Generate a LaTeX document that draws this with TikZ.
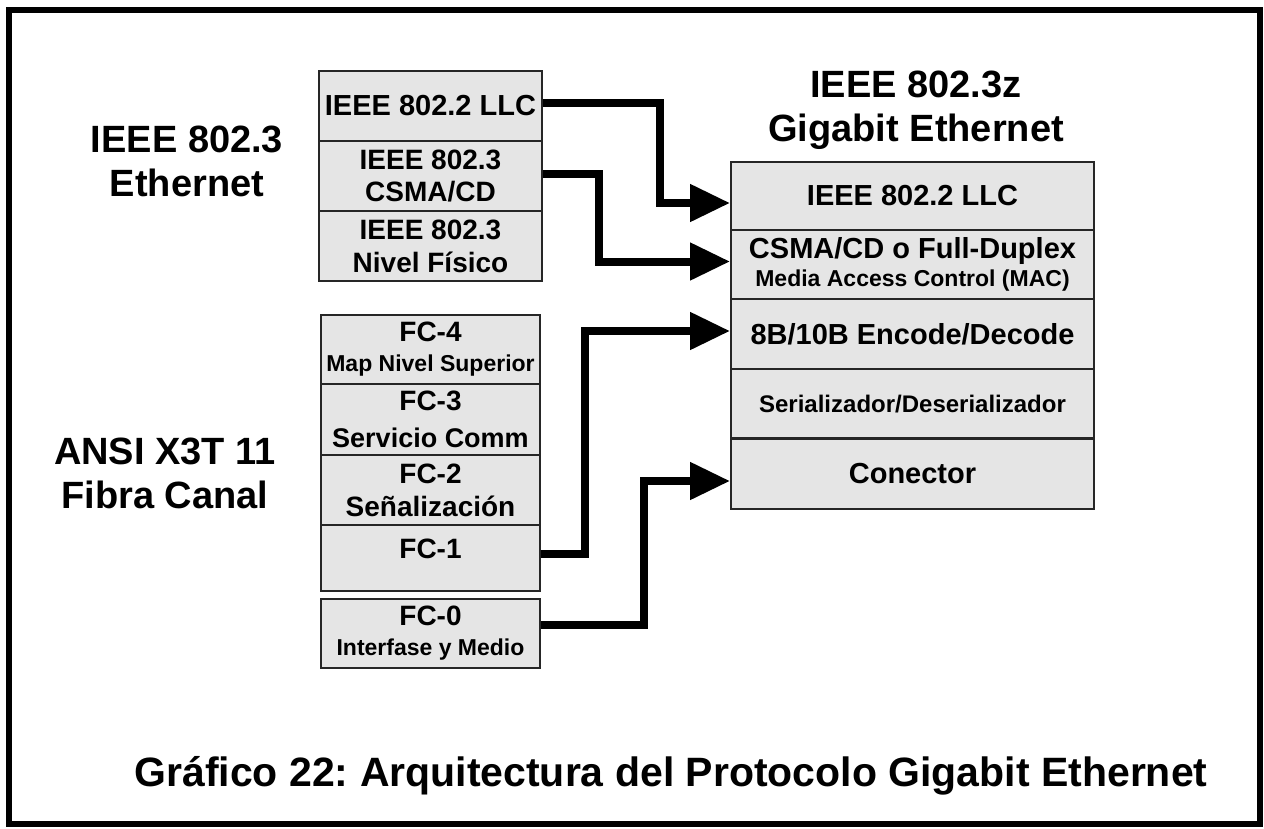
\documentclass[tikz,border=0pt]{standalone}
\usepackage{fontspec}
\setmainfont{Liberation Sans}
\usetikzlibrary{arrows.meta}
\newcommand{\fsz}[2]{\fontsize{#1}{#2}\selectfont}
\frenchspacing
\begin{document}
\begin{tikzpicture}[x=1pt,y=-1pt,
  layer/.style={draw=black!85,line width=2pt,fill=black!10,inner sep=0pt,anchor=north west,align=center,font=\bfseries\fsz{28}{33}},
  conn/.style={line width=8pt,line join=miter,-{Triangle[length=40pt,width=36pt]}},
  lbl/.style={font=\bfseries\fsz{38}{44},align=center}]
\useasboundingbox (0,0) rectangle (1264,828);
\fill[white] (0,0) rectangle (1264,828);
\draw[line width=6pt] (9,10) rectangle (1260,824);

% left labels
\node[lbl] (eth) at (187,161) {IEEE 802.3\\Ethernet};
\node[lbl] (ansi) at (165,473) {ANSI X3T 11\\Fibra Canal};
\node[lbl] (gig) at (916,110) {IEEE 802.3z\\Gigabit Ethernet};
\node[font=\bfseries\fsz{41}{46}] (cap) at (671,776) {Gráfico 22: Arquitectura del Protocolo Gigabit Ethernet};

% IEEE 802.3 stack
\node[layer,minimum width=223pt,minimum height=70pt,font=\bfseries\fsz{29}{32}] (llcL) at (318,70) {IEEE 802.2 LLC};
\node[layer,minimum width=223pt,minimum height=70pt,font=\bfseries\fsz{28}{32}] (csmaL) at (318,140) {IEEE 802.3\\CSMA/CD};
\node[layer,minimum width=223pt,minimum height=70pt,font=\bfseries\fsz{28}{33}] (phyL) at (318,210) {IEEE 802.3\\Nivel Físico};

% Fibre channel stack
\node[layer,minimum width=219pt,minimum height=69pt,font=\bfseries\fsz{28}{30}] (fc4) at (320,314) {FC-4\\\fsz{23}{30}Map Nivel Superior};
\node[layer,minimum width=219pt,minimum height=71pt,font=\bfseries\fsz{28}{37}] (fc3) at (320,383) {FC-3\\\fsz{27}{37}Servicio Comm};
\node[layer,minimum width=219pt,minimum height=70pt,font=\bfseries\fsz{28}{33}] (fc2) at (320,454) {FC-2\\Señalización};
\node[layer,minimum width=219pt,minimum height=66pt,text depth=18pt] (fc1) at (320,524) {FC-1};
\node[layer,minimum width=219pt,minimum height=69pt,font=\bfseries\fsz{28}{30}] (fc0) at (320,598) {FC-0\\\fsz{23}{30}Interfase y Medio};

% Gigabit Ethernet stack
\node[layer,minimum width=363pt,minimum height=68pt,font=\bfseries\fsz{29}{32}] (llcR) at (730,161) {IEEE 802.2 LLC};
\node[layer,minimum width=363pt,minimum height=69pt,font=\bfseries\fsz{29}{28}] (macR) at (730,229) {CSMA/CD o Full-Duplex\\\fsz{23}{28}Media Access Control (MAC)};
\node[layer,minimum width=363pt,minimum height=70pt,font=\bfseries\fsz{29}{32}] (encR) at (730,298) {8B/10B Encode/Decode};
\node[layer,minimum width=363pt,minimum height=70pt,font=\bfseries\fsz{24}{28}] (serR) at (730,368) {Serializador/Deserializador};
\node[layer,minimum width=363pt,minimum height=70pt,font=\bfseries\fsz{29}{32}] (conR) at (730,438) {Conector};
\draw[line width=3pt,black!85] (conR.north west) -- (conR.north east);

% connectors
\draw[conn] ([yshift=3pt]llcL.east) -- ++(117,0) |- ([yshift=-7pt]llcR.west);
\draw[conn] ([yshift=2pt]csmaL.east) -- ++(56,0) |- ([yshift=3pt]macR.west);
\draw[conn] ([yshift=4pt]fc1.east) -- ++(44,0) |- ([yshift=3pt]encR.west);
\draw[conn] ([yshift=9pt]fc0.east) -- ++(103,0) |- ([yshift=-7pt]conR.west);
\end{tikzpicture}
\end{document}
